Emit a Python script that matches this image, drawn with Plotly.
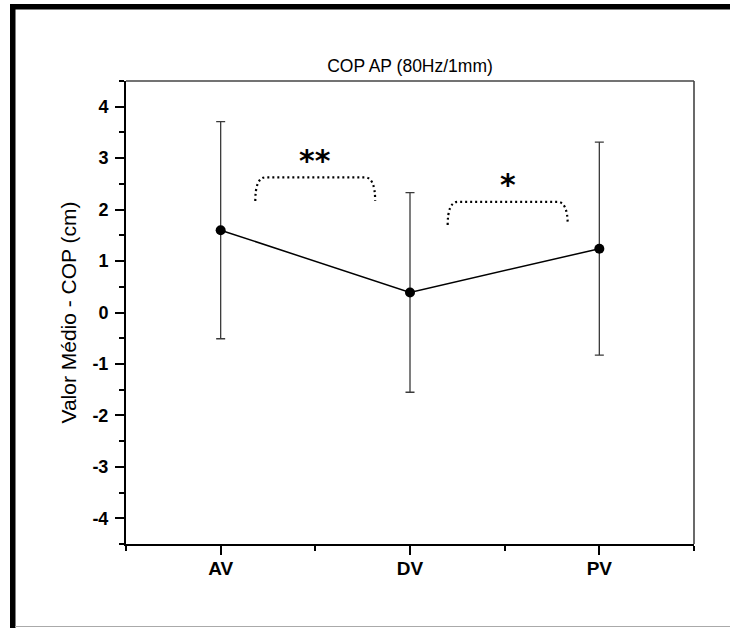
import plotly.graph_objects as go

# ---- data ----
categories = ["AV", "DV", "PV"]
means = [1.60, 0.39, 1.24]
sds = [2.11, 1.94, 2.07]
y_ticks = [-4, -3, -2, -1, 0, 1, 2, 3, 4]
y_ticklabels = ["-4", "-3", "-2", "-1", "0", "1", "2", "3", "4"]

# significance brackets: (x_start, x_end, y_bottom, y_top, label)
bracket_x0 = [0.183, 1.199]
bracket_x1 = [0.816, 1.833]
bracket_yb = [2.165, 1.70]
bracket_yt = [2.627, 2.152]
bracket_labels = ["**", "*"]
bracket_label_y = [2.95, 2.48]

xpos = list(range(len(categories)))

fig = go.Figure()
fig.add_trace(go.Scatter(
    x=xpos, y=means, mode="lines+markers",
    line=dict(color="black", width=1.5),
    marker=dict(color="black", size=10),
    error_y=dict(type="data", array=sds, visible=True, color="#3a3a3a",
                 thickness=1.3, width=4.5),
    showlegend=False,
))

FONT = "Arial, Liberation Sans, sans-serif"
L, T, W, H = 126, 81, 568, 463


def px_x(p):
    return (p - L) / W


def px_y(p):
    return (T + H - p) / H


shapes = []
annotations = []
for x0, x1, yb, yt, lab, ly in zip(bracket_x0, bracket_x1, bracket_yb,
                                    bracket_yt, bracket_labels, bracket_label_y):
    dx = 0.055
    path = (f"M {x0},{yb} Q {x0},{yt} {x0+dx},{yt} L {x1-dx},{yt} "
            f"Q {x1},{yt} {x1},{yb}")
    shapes.append(dict(type="path", xref="x", yref="y", path=path,
                       line=dict(color="black", width=2.2, dash="2px,3px")))
    annotations.append(dict(x=(x0 + x1) / 2, y=ly, xref="x", yref="y",
                            text=lab, showarrow=False,
                            font=dict(family="DejaVu Sans", size=30, color="black",
                                      weight="bold"),
                            yanchor="middle"))

# frame top/right
shapes.append(dict(type="line", xref="paper", yref="paper", x0=0, x1=1, y0=1, y1=1,
                   line=dict(color="#444", width=1.6)))
shapes.append(dict(type="line", xref="paper", yref="paper", x0=1, x1=1, y0=0, y1=1,
                   line=dict(color="#444", width=1.6)))
# page decorations: thick black left and top bars, thin grey bottom line
shapes.append(dict(type="rect", xref="paper", yref="paper",
                   x0=px_x(10), x1=px_x(15.5), y0=px_y(628), y1=px_y(4),
                   fillcolor="black", line=dict(width=0)))
shapes.append(dict(type="rect", xref="paper", yref="paper",
                   x0=px_x(10), x1=px_x(730), y0=px_y(9.5), y1=px_y(4),
                   fillcolor="black", line=dict(width=0)))
shapes.append(dict(type="line", xref="paper", yref="paper",
                   x0=px_x(15), x1=px_x(730), y0=px_y(626.5), y1=px_y(626.5),
                   line=dict(color="#aaaaaa", width=1)))

fig.update_layout(
    width=730, height=628,
    margin=dict(l=L, r=730 - L - W, t=T, b=628 - T - H),
    paper_bgcolor="white", plot_bgcolor="white",
    font=dict(family=FONT, color="black"),
    title=dict(text="COP AP (80Hz/1mm)", x=410 / 730,
               xanchor="center", y=1 - 66 / 628, yanchor="middle",
               yref="container", xref="container",
               font=dict(size=17.5, family=FONT, color="black")),
    shapes=shapes, annotations=annotations,
)

fig.update_xaxes(
    range=[-0.5, 2.5], tickmode="array", tickvals=xpos, ticktext=categories,
    ticks="outside", ticklen=9, tickwidth=1.5, tickcolor="black",
    showline=True, linecolor="black", linewidth=2, showgrid=False, zeroline=False,
    tickfont=dict(size=19, family=FONT, weight="bold"), ticklabelstandoff=-3,
    minor=dict(tickmode="array", tickvals=[-0.5, 0.5, 1.5, 2.5], ticks="outside",
               ticklen=5, tickwidth=1.5, tickcolor="black", showgrid=False),
)
fig.update_yaxes(
    range=[-4.5, 4.5], tickmode="array", tickvals=y_ticks, ticktext=y_ticklabels,
    ticks="outside", ticklen=9, tickwidth=1.5, tickcolor="black",
    showline=True, linecolor="black", linewidth=2, showgrid=False, zeroline=False,
    tickfont=dict(size=18, family=FONT, weight="bold"), ticklabelstandoff=3,
    minor=dict(tickmode="array", tickvals=[-4.5, -3.5, -2.5, -1.5, -0.5, 0.5, 1.5, 2.5, 3.5, 4.5],
               ticks="outside", ticklen=5, tickwidth=1.5, tickcolor="black", showgrid=False),
    title=dict(text="Valor Médio - COP (cm)", standoff=10,
               font=dict(size=21, family=FONT, color="black")),
)

fig.write_html("out.html", config={"displayModeBar": False},
               post_script="document.body.style.margin='0px';")
